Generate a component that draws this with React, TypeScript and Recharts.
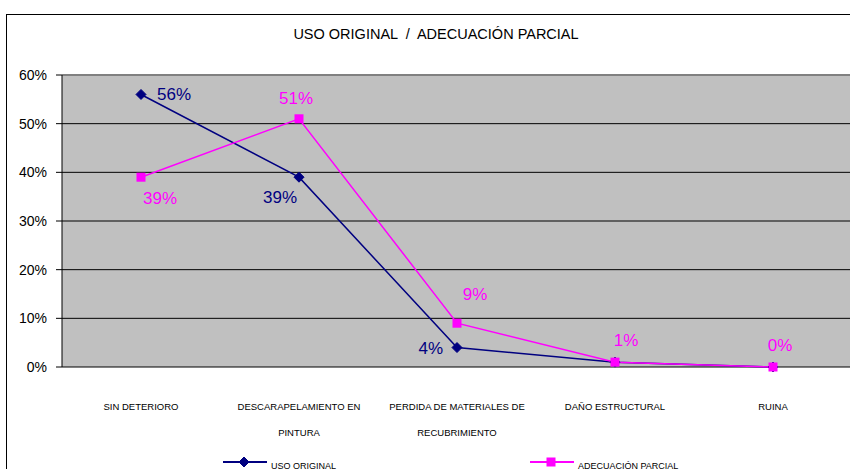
import React from 'react';
import {
  LineChart,
  Line,
  XAxis,
  YAxis,
  CartesianGrid,
  ReferenceLine,
  LabelList,
  Customized,
} from 'recharts';

// Category names, split into the lines they are printed on
const categoryLabels: string[][] = [
  ['SIN DETERIORO'],
  ['DESCARAPELAMIENTO EN', 'PINTURA'],
  ['PERDIDA DE MATERIALES DE', 'RECUBRIMIENTO'],
  ['DAÑO ESTRUCTURAL'],
  ['RUINA'],
];

// Percent of cases per condition
const usoOriginal = [56, 39, 4, 1, 0];
const adecuacionParcial = [39, 51, 9, 1, 0];

const seriesNames = ['USO ORIGINAL', 'ADECUACIÓN PARCIAL'];
const yTicks = [0, 10, 20, 30, 40, 50, 60];
const chartTitle = 'USO ORIGINAL  /  ADECUACIÓN PARCIAL';

const data = categoryLabels.map((lines, i) => ({
  name: lines.join(' '),
  uso: usoOriginal[i],
  adec: adecuacionParcial[i],
}));

const FONT = '"Liberation Sans", Arial, sans-serif';
const NAVY = '#000080';
const MAGENTA = '#FF00FF';

const W = 860;
const H = 469;
const PLOT_LEFT = 62;
const PLOT_RIGHT_MARGIN = 8;
const PLOT_WIDTH = W - PLOT_LEFT - PLOT_RIGHT_MARGIN;
const HALF_BAND = PLOT_WIDTH / categoryLabels.length / 2;

type Placement = { dx: number; dy: number; anchor: 'start' | 'middle' | 'end' } | null;

// Where each value label sits relative to its point
const usoLabelPlacement: Placement[] = [
  { dx: 16, dy: 0, anchor: 'start' },
  { dx: -2, dy: 20, anchor: 'end' },
  { dx: -14, dy: 0, anchor: 'end' },
  null,
  null,
];
const adecLabelPlacement: Placement[] = [
  { dx: 19, dy: 21, anchor: 'middle' },
  { dx: -3, dy: -21, anchor: 'middle' },
  { dx: 18, dy: -29, anchor: 'middle' },
  { dx: 11, dy: -22, anchor: 'middle' },
  { dx: 7, dy: -22, anchor: 'middle' },
];

const makeValueLabel = (placements: Placement[], color: string) => (props: any) => {
  const { index, value } = props;
  const px = props.x ?? props.viewBox?.x;
  const py = props.y ?? props.viewBox?.y;
  const p = placements[index];
  if (!p || px == null || py == null) return null;
  return (
    <text
      key={`lbl-${color}-${index}`}
      x={px + p.dx}
      y={py + p.dy + 6}
      textAnchor={p.anchor}
      fill={color}
      fontSize={17}
      fontFamily={FONT}
    >
      {`${value}%`}
    </text>
  );
};

const Diamond = ({ cx, cy, r = 5, color = NAVY }: any) => {
  if (cx == null || cy == null) return null;
  return (
    <polygon
      points={`${cx},${cy - r} ${cx + r},${cy} ${cx},${cy + r} ${cx - r},${cy}`}
      fill={color}
      stroke={color}
      strokeWidth={1}
    />
  );
};

const Square = ({ cx, cy, s = 9, color = MAGENTA }: any) => {
  if (cx == null || cy == null) return null;
  return <rect x={cx - s / 2} y={cy - s / 2} width={s} height={s} fill={color} />;
};

const CategoryTick = (props: any) => {
  const { x, y, index } = props;
  const lines = categoryLabels[index] ?? [];
  return (
    <g>
      {lines.map((line, k) => (
        <text
          key={k}
          x={x}
          y={y + 43 + k * 26}
          textAnchor="middle"
          fontSize={9.5}
          fontFamily={FONT}
          fill="#000"
        >
          {line}
        </text>
      ))}
    </g>
  );
};

const Title = () => (
  <text
    x={436}
    y={38.5}
    textAnchor="middle"
    fontSize={14.5}
    fontFamily={FONT}
    fill="#000"
    style={{ whiteSpace: 'pre' }}
  >
    {chartTitle}
  </text>
);

const LegendBlock = () => {
  const items = [
    { name: seriesNames[0], color: NAVY, x: 223, kind: 'diamond' },
    { name: seriesNames[1], color: MAGENTA, x: 530, kind: 'square' },
  ];
  const ly = 462;
  return (
    <g>
      {items.map((it) => (
        <g key={it.name}>
          <line x1={it.x} y1={ly} x2={it.x + 44} y2={ly} stroke={it.color} strokeWidth={2} />
          {it.kind === 'diamond' ? (
            <Diamond cx={it.x + 21} cy={ly} r={5} color={it.color} />
          ) : (
            <Square cx={it.x + 21} cy={ly} s={9} color={it.color} />
          )}
          <text x={it.x + 48} y={468.5} fontSize={9} fontFamily={FONT} fill="#000">
            {it.name}
          </text>
        </g>
      ))}
    </g>
  );
};

const edgeTicks = [...categoryLabels.map((_, i) => i), categoryLabels.length];

export default function App() {
  return (
    <div
      style={{
        position: 'fixed',
        left: 0,
        top: 0,
        width: 850,
        height: 469,
        overflow: 'hidden',
        background: '#fff',
      }}
    >
      <div
        style={{
          position: 'absolute',
          left: 6,
          top: 14,
          width: 900,
          height: 500,
          border: '1px solid #000',
          boxSizing: 'border-box',
        }}
      />
      <div style={{ position: 'absolute', left: 0, top: 0 }}>
        <LineChart
          width={W}
          height={H}
          data={data}
          margin={{ top: 75, right: PLOT_RIGHT_MARGIN, left: 0, bottom: 0 }}
        >
          <CartesianGrid
            xAxisId="cat"
            vertical={false}
            stroke="#000"
            strokeWidth={1}
            fill="#C0C0C0"
            fillOpacity={1}
          />
          <XAxis
            xAxisId="edge"
            type="number"
            domain={[0, categoryLabels.length]}
            allowDataOverflow
            ticks={edgeTicks}
            tick={false}
            tickSize={5}
            height={0}
            axisLine={{ stroke: '#000' }}
            tickLine={{ stroke: '#000' }}
          />
          <XAxis
            xAxisId="cat"
            dataKey="name"
            interval={0}
            padding={{ left: HALF_BAND, right: HALF_BAND }}
            axisLine={false}
            tickLine={false}
            tickSize={0}
            tickMargin={0}
            height={102}
            tick={<CategoryTick />}
          />
          <YAxis
            width={PLOT_LEFT}
            domain={[0, 60]}
            ticks={yTicks}
            tickFormatter={(v: number) => `${v}%`}
            axisLine={{ stroke: '#000' }}
            tickLine={{ stroke: '#000' }}
            tickSize={6}
            tickMargin={9}
            tick={{ fill: '#000', fontSize: 14, fontFamily: FONT }}
          />
          <ReferenceLine xAxisId="cat" y={60} stroke="#808080" strokeWidth={2} />
          <Line
            xAxisId="cat"
            dataKey="uso"
            name={seriesNames[0]}
            stroke={NAVY}
            strokeWidth={1.5}
            isAnimationActive={false}
            dot={(p: any) => <Diamond key={`d-${p.index}`} cx={p.cx} cy={p.cy} r={5} color={NAVY} />}
            activeDot={false}
          >
            <LabelList dataKey="uso" content={makeValueLabel(usoLabelPlacement, NAVY)} />
          </Line>
          <Line
            xAxisId="cat"
            dataKey="adec"
            name={seriesNames[1]}
            stroke={MAGENTA}
            strokeWidth={1.5}
            isAnimationActive={false}
            dot={(p: any) => <Square key={`s-${p.index}`} cx={p.cx} cy={p.cy} s={9} color={MAGENTA} />}
            activeDot={false}
          >
            <LabelList dataKey="adec" content={makeValueLabel(adecLabelPlacement, MAGENTA)} />
          </Line>
          <Customized component={Title} />
          <Customized component={LegendBlock} />
        </LineChart>
      </div>
    </div>
  );
}
